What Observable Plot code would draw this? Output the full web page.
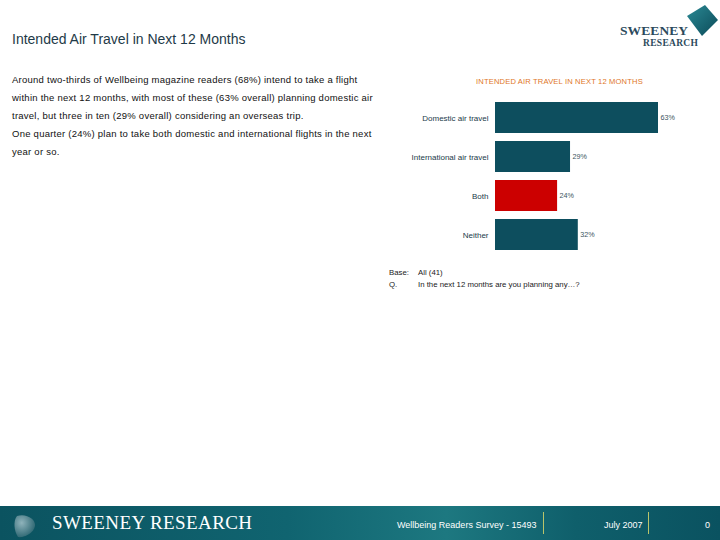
<!DOCTYPE html>
<html>
<head>
<meta charset="utf-8">
<script src="https://cdn.jsdelivr.net/npm/d3@7"></script>
<script src="https://cdn.jsdelivr.net/npm/@observablehq/plot@0.6"></script>
<style>
  html, body { margin: 0; padding: 0; background: #fff; }
  #page { position: relative; width: 720px; height: 540px; overflow: hidden; font-family: "Liberation Sans", Arial, sans-serif; }
  .abs { position: absolute; white-space: nowrap; }
  #title { left: 12px; top: 31px; font-size: 14px; color: #1e3a48; }
  .body { left: 12px; font-size: 9.5px; letter-spacing: 0.25px; color: #111; }
  #ctitle { left: 476px; top: 77px; font-size: 7.6px; color: #e0761f; letter-spacing: 0.15px; }
  .base { left: 389px; font-size: 7.8px; color: #1a1a1a; }
  .base span { position: absolute; left: 29px; }
  #chart { position: absolute; left: 390px; top: 90px; }
  #footer { position: absolute; left: 0; top: 506px; width: 720px; height: 34px;
    background: linear-gradient(90deg, #0b5360 0%, #106470 40%, #1d7880 62%, #0f5f6b 80%, #0a5260 100%); }
  .ft { position: absolute; top: 14px; font-size: 9px; color: #fff; white-space: nowrap; }
  .div { position: absolute; top: 6px; width: 1px; height: 22px; background: #b9c46a; }
  #flogo { position: absolute; left: 52px; top: 6px; font-family: "Liberation Serif", serif; font-size: 19px; color: #fff; letter-spacing: 0.4px; }
  #tlogo1 { left: 620px; top: 23px; font-family: "Liberation Serif", serif; font-size: 13.5px; font-weight: bold; color: #2c4a5c; letter-spacing: 0.1px; }
  #tlogo2 { left: 643px; top: 38px; font-family: "Liberation Serif", serif; font-size: 9.5px; font-weight: bold; color: #2c4a5c; letter-spacing: 0.3px; }
</style>
</head>
<body>
<div id="page">
  <div id="title" class="abs">Intended Air Travel in Next 12 Months</div>
  <div class="abs body" style="top:74px">Around two-thirds of Wellbeing magazine readers (68%) intend to take a flight</div>
  <div class="abs body" style="top:92px">within the next 12 months, with most of these (63% overall) planning domestic air</div>
  <div class="abs body" style="top:110px">travel, but three in ten (29% overall) considering an overseas trip.</div>
  <div class="abs body" style="top:128px">One quarter (24%) plan to take both domestic and international flights in the next</div>
  <div class="abs body" style="top:146px">year or so.</div>

  <div id="ctitle" class="abs">INTENDED AIR TRAVEL IN NEXT 12 MONTHS</div>
  <div id="chart"></div>
  <div class="abs base" style="top:268px">Base:<span>All (41)</span></div>
  <div class="abs base" style="top:280px">Q.<span>In the next 12 months are you planning any…?</span></div>

  <svg class="abs" style="left:680px;top:2px" width="40" height="40" viewBox="0 0 40 40">
    <defs><linearGradient id="tg" x1="0" y1="0" x2="1" y2="1">
      <stop offset="0" stop-color="#2b8a95"/><stop offset="1" stop-color="#0b4a58"/></linearGradient></defs>
    <path d="M7 14 L25 3 L38 18 L22 34 Z" fill="url(#tg)"/>
  </svg>
  <div id="tlogo1" class="abs">SWEENEY</div>
  <div id="tlogo2" class="abs">RESEARCH</div>

  <div id="footer">
    <svg style="position:absolute;left:12px;top:5px" width="26" height="28" viewBox="0 0 26 28">
      <defs><radialGradient id="fg" cx="0.35" cy="0.35" r="0.8">
        <stop offset="0" stop-color="#8fb3bb"/><stop offset="1" stop-color="#1d5a66"/></radialGradient></defs>
      <path d="M5 5 C14 2 24 8 23 15 C22 22 12 27 6 26 C2 20 1 10 5 5 Z" fill="url(#fg)"/>
    </svg>
    <div id="flogo">SWEENEY RESEARCH</div>
    <div class="ft" style="left:397px">Wellbeing Readers Survey - 15493</div>
    <div class="div" style="left:543px"></div>
    <div class="ft" style="left:604px">July 2007</div>
    <div class="div" style="left:648px"></div>
    <div class="ft" style="left:705px">0</div>
  </div>
</div>
<script>
const categories = ["Domestic air travel", "International air travel", "Both", "Neither"];
const values = [63, 29, 24, 32];
const highlight = ["Both"];

const data = categories.map((c, i) => ({category: c, value: values[i]}));

const chart = Plot.plot({
  width: 290,
  height: 172,
  marginLeft: 105,
  marginRight: 22,
  marginTop: 4,
  marginBottom: 4,
  style: {fontFamily: "Liberation Sans, Arial, sans-serif", background: "transparent", overflow: "visible"},
  x: {domain: [0, 63], axis: null},
  y: {domain: categories, padding: 0.2, label: null},
  marks: [
    Plot.axisY({tickSize: 0, tickPadding: 7, fontSize: 8, fill: "#1b3b4a", label: null}),
    Plot.barX(data, {
      x: "value", y: "category",
      fill: d => highlight.includes(d.category) ? "#cc0000" : "#0d4e5e"
    }),
    Plot.text(data, {
      x: "value", y: "category", text: d => d.value + "%",
      textAnchor: "start", dx: 2, fontSize: 7.2, fill: "#3a5560"
    })
  ]
});
document.getElementById("chart").appendChild(chart);
</script>
</body>
</html>
